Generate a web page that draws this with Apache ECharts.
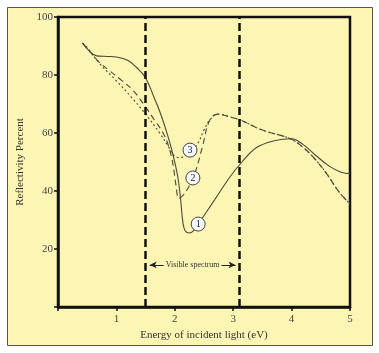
<!DOCTYPE html>
<html>
<head>
<meta charset="utf-8">
<script src="https://cdn.jsdelivr.net/npm/echarts@6/dist/echarts.min.js"></script>
<style>
  html, body { margin: 0; padding: 0; background: #fff; }
  #main { width: 379px; height: 353px; }
</style>
</head>
<body>
<div id="main"></div>
<script>
// 曲线 1（实线）
const curve1 = [
  [0.42, 91], [0.55, 88], [0.66, 86.6], [0.85, 86.4], [1.0, 86.2], [1.2, 85],
  [1.35, 82.5], [1.5, 79], [1.65, 72], [1.75, 67], [1.85, 61], [1.95, 54],
  [2.05, 45], [2.1, 37], [2.14, 29], [2.18, 26.2], [2.25, 25.5], [2.33, 26.5],
  [2.45, 30], [2.65, 36], [2.95, 45], [3.15, 50], [3.4, 55], [3.7, 57.3],
  [4.0, 58], [4.2, 56], [4.4, 52.5], [4.65, 48.5], [4.85, 46.5], [5.0, 46]
]
// 曲线 2（长虚线）
const curve2 = [
  [0.42, 91], [0.55, 88], [0.7, 84.5], [0.88, 81.5], [1.1, 78], [1.28, 74.8],
  [1.5, 69], [1.65, 64.5], [1.8, 60], [1.9, 55], [1.97, 49], [2.02, 42],
  [2.07, 37.5], [2.14, 38.5], [2.24, 41.5], [2.35, 46.5], [2.47, 55], [2.6, 64.5],
  [2.74, 66.5], [2.95, 65.5], [3.12, 64.5], [3.5, 61], [3.98, 58], [4.2, 55],
  [4.4, 51], [4.6, 46], [4.8, 40], [5.0, 35.5]
]
// 曲线 3（点线）
const curve3 = [
  [0.42, 91], [0.5, 89.5], [0.71, 84], [1.0, 78], [1.25, 72.5], [1.5, 66.5],
  [1.74, 60], [1.9, 55], [2.0, 52], [2.1, 51.5], [2.2, 52.5], [2.38, 56],
  [2.5, 61], [2.6, 64.5], [2.74, 66.5], [2.95, 65.5], [3.12, 64.5], [3.5, 61],
  [3.98, 58], [4.2, 55], [4.4, 51], [4.6, 46], [4.8, 40], [5.0, 35.5]
]
// 曲线编号的位置
const tags = [[2.26, 54.1, '3'], [2.31, 44.5, '2'], [2.4, 28.6, '1']]
// 可见光范围 (eV)
const visible = [1.5, 3.1]
const visibleLabel = 'Visible spectrum'
const xTicks = [0, 1, 2, 3, 4, 5]
const yTicks = [0, 20, 40, 60, 80, 100]

const serif = '"Liberation Serif", "DejaVu Serif", serif'
const yellow = '#fdf5b4'
const ink = '#4a4838'

let chart = echarts.init(document.getElementById('main'))

let option = {
  backgroundColor: '#fff',
  animation: false,
  graphic: [
    {
      type: 'rect',
      z: -10,
      shape: { x: 7.5, y: 7.5, width: 365, height: 338 },
      style: { fill: yellow, stroke: '#555', lineWidth: 1 }
    }
  ],
  grid: {
    left: 58,
    right: 29,
    top: 17,
    bottom: 46,
    show: true,
    backgroundColor: 'transparent',
    borderColor: '#111',
    borderWidth: 2.5
  },
  xAxis: {
    type: 'value',
    min: xTicks[0],
    max: xTicks[xTicks.length - 1],
    interval: 1,
    name: 'Energy of incident light (eV)',
    nameLocation: 'middle',
    nameGap: 20,
    nameTextStyle: { fontFamily: serif, fontSize: 11, color: '#333' },
    axisLine: { lineStyle: { color: '#111', width: 2.5 } },
    axisTick: { length: 4, lineStyle: { color: '#111', width: 1.5 } },
    axisLabel: {
      fontFamily: serif, fontSize: 11, color: '#444', margin: 7,
      formatter: v => (v === 0 ? '' : v)
    },
    splitLine: { show: false }
  },
  yAxis: {
    type: 'value',
    min: yTicks[0],
    max: yTicks[yTicks.length - 1],
    interval: 20,
    name: 'Reflectivity Percent',
    nameLocation: 'middle',
    nameGap: 21,
    nameTextStyle: { fontFamily: serif, fontSize: 11, color: '#333' },
    axisLine: { lineStyle: { color: '#111', width: 2.5 } },
    axisTick: { length: 4, lineStyle: { color: '#111', width: 1.5 } },
    axisLabel: {
      fontFamily: serif, fontSize: 11, color: '#444', margin: 5,
      formatter: v => (v === 0 ? '' : v)
    },
    splitLine: { show: false }
  },
  series: [
    {
      type: 'line',
      data: curve3,
      smooth: 0.4,
      showSymbol: false,
      lineStyle: { color: ink, width: 1.1, type: [2, 2.5] },
      markLine: {
        silent: true,
        symbol: 'none',
        label: { show: false },
        lineStyle: { color: '#111', width: 2.5, type: [8, 4] },
        data: visible.map(v => ({ xAxis: v }))
      }
    },
    {
      type: 'line',
      data: curve2,
      smooth: 0.4,
      showSymbol: false,
      lineStyle: { color: ink, width: 1.1, type: [6, 4] }
    },
    {
      type: 'line',
      data: curve1,
      smooth: 0.4,
      showSymbol: false,
      lineStyle: { color: ink, width: 1.1 },
      markLine: {
        silent: true,
        symbol: ['arrow', 'arrow'],
        symbolSize: [5, 7],
        lineStyle: { color: '#222', width: 1.2, type: 'solid' },
        label: {
          show: true,
          position: 'middle',
          distance: 0,
          offset: [0, 5],
          formatter: visibleLabel,
          fontFamily: serif,
          fontSize: 8,
          color: '#333',
          backgroundColor: yellow,
          padding: [1, 2]
        },
        data: [[{ coord: [1.57, 14.5] }, { coord: [3.04, 14.5] }]]
      }
    },
    {
      type: 'scatter',
      z: 5,
      data: tags,
      symbolSize: 14,
      itemStyle: { color: '#f6f8ff', borderColor: '#444', borderWidth: 1, opacity: 1 },
      label: {
        show: true,
        position: 'inside',
        formatter: p => p.data[2],
        fontFamily: serif,
        fontSize: 10,
        color: '#223'
      }
    }
  ]
}

chart.setOption(option)
</script>
</body>
</html>
